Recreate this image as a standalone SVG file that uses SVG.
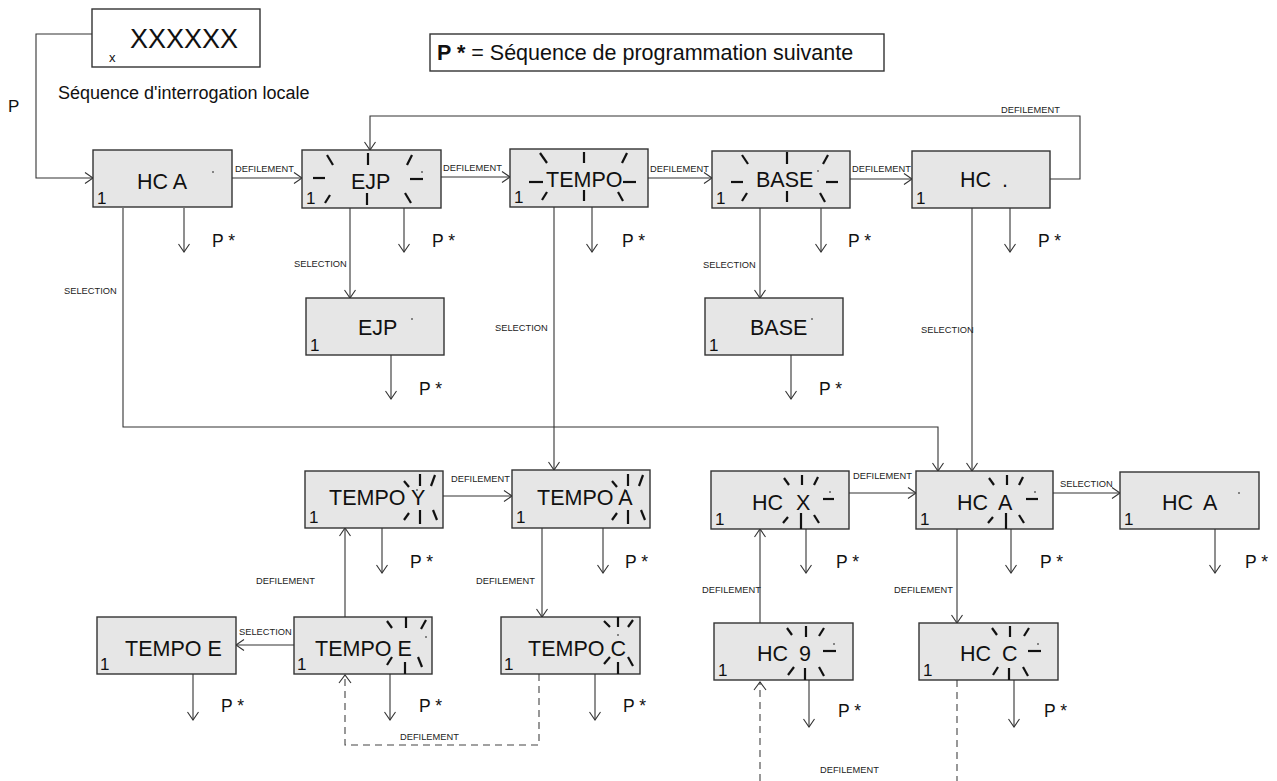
<svg xmlns="http://www.w3.org/2000/svg" width="1277" height="781" viewBox="0 0 1277 781">
<defs>
<marker id="ah" markerUnits="userSpaceOnUse" markerWidth="14" markerHeight="14" refX="9" refY="6" orient="auto">
<path d="M1,0.5 L9,6 L1,11.5" fill="none" stroke="#333" stroke-width="1.1"/>
</marker>
<style>
text{font-family:"Liberation Sans",Arial,sans-serif;fill:#111}
.box{fill:#e6e6e6;stroke:#333;stroke-width:1.4}
.wbox{fill:#fff;stroke:#333;stroke-width:1.4}
.t{font-size:21.5px}
.one{font-size:17px}
.lbl{font-size:9.3px;fill:#222}
.ps{font-size:17.5px}
.ln{fill:none;stroke:#333;stroke-width:1.1}
.arr{fill:none;stroke:#333;stroke-width:1.1;marker-end:url(#ah)}
.dash{fill:none;stroke:#444;stroke-width:1.1;stroke-dasharray:7,5}
.bk{stroke:#111;stroke-width:2.2;stroke-linecap:butt}
.dot{stroke:#222;stroke-width:1}
</style>
</defs>

<g id="header">
<rect class="wbox" x="92" y="9" width="168" height="58"/>
<text x="109" y="62" style="font-size:13px">x</text>
<text x="130" y="48" style="font-size:27px">XXXXXX</text>
<text x="58" y="99" style="font-size:18px">Séquence d'interrogation locale</text>
<text x="8" y="112" style="font-size:17px">P</text>
<rect class="wbox" x="430" y="34" width="454" height="37"/>
<text x="437" y="60" style="font-size:21.5px"><tspan font-weight="bold">P *</tspan> = Séquence de programmation suivante</text>
</g>

<g id="connectors">
<path class="arr" d="M92,34 H36 V178 H93"/>
<path class="arr" d="M232,178 H302"/>
<path class="arr" d="M441,177 H510"/>
<path class="arr" d="M648,178 H712"/>
<path class="arr" d="M850,179 H912"/>
<path class="arr" d="M1050,179 H1080 V116 H370 V150"/>
<path class="arr" d="M123,208 V427 H938 V471"/>
<path class="arr" d="M350,208 V298"/>
<path class="arr" d="M554,207 V470"/>
<path class="arr" d="M760,208 V298"/>
<path class="arr" d="M972,208 V471"/>
<path class="arr" d="M443,496 H512"/>
<path class="arr" d="M849,493 H916"/>
<path class="arr" d="M1053,493 H1120"/>
<path class="arr" d="M345,617 V528"/>
<path class="arr" d="M542,528 V617"/>
<path class="arr" d="M760,623 V529"/>
<path class="arr" d="M957,529 V623"/>
<path class="arr" d="M294,645 H236"/>
<path class="dash" d="M539,674 V745 H345 V676"/>
<path class="ln" d="M339,683 L345,675 L351,683"/>
<path class="dash" d="M760,781 V682"/>
<path class="ln" d="M754,690 L760,682 L766,690"/>
<path class="dash" d="M957,680 V781"/>
<path class="arr" d="M184,208 V252"/>
<path class="arr" d="M404,208 V252"/>
<path class="arr" d="M592,207 V252"/>
<path class="arr" d="M821,208 V252"/>
<path class="arr" d="M1010,208 V252"/>
<path class="arr" d="M391,355 V399"/>
<path class="arr" d="M791,355 V399"/>
<path class="arr" d="M382,528 V573"/>
<path class="arr" d="M603,528 V573"/>
<path class="arr" d="M806,529 V573"/>
<path class="arr" d="M1011,529 V573"/>
<path class="arr" d="M1215,529 V573"/>
<path class="arr" d="M193,674 V720"/>
<path class="arr" d="M390,674 V720"/>
<path class="arr" d="M595,674 V720"/>
<path class="arr" d="M809,680 V727"/>
<path class="arr" d="M1014,680 V727"/>
<text class="lbl" x="235" y="172">DEFILEMENT</text>
<text class="lbl" x="443" y="171">DEFILEMENT</text>
<text class="lbl" x="650" y="172">DEFILEMENT</text>
<text class="lbl" x="852" y="172">DEFILEMENT</text>
<text class="lbl" x="1001" y="113">DEFILEMENT</text>
<text class="lbl" x="64" y="294">SELECTION</text>
<text class="lbl" x="294" y="267">SELECTION</text>
<text class="lbl" x="495" y="331">SELECTION</text>
<text class="lbl" x="703" y="268">SELECTION</text>
<text class="lbl" x="921" y="333">SELECTION</text>
<text class="lbl" x="451" y="482">DEFILEMENT</text>
<text class="lbl" x="853" y="479">DEFILEMENT</text>
<text class="lbl" x="1060" y="487">SELECTION</text>
<text class="lbl" x="256" y="584">DEFILEMENT</text>
<text class="lbl" x="476" y="584">DEFILEMENT</text>
<text class="lbl" x="702" y="593">DEFILEMENT</text>
<text class="lbl" x="894" y="593">DEFILEMENT</text>
<text class="lbl" x="239" y="635">SELECTION</text>
<text class="lbl" x="400" y="740">DEFILEMENT</text>
<text class="lbl" x="820" y="773">DEFILEMENT</text>
<text class="ps" x="212" y="247">P *</text>
<text class="ps" x="432" y="247">P *</text>
<text class="ps" x="622" y="247">P *</text>
<text class="ps" x="848" y="247">P *</text>
<text class="ps" x="1038" y="247">P *</text>
<text class="ps" x="419" y="395">P *</text>
<text class="ps" x="819" y="395">P *</text>
<text class="ps" x="410" y="568">P *</text>
<text class="ps" x="625" y="568">P *</text>
<text class="ps" x="836" y="568">P *</text>
<text class="ps" x="1040" y="568">P *</text>
<text class="ps" x="1245" y="568">P *</text>
<text class="ps" x="221" y="712">P *</text>
<text class="ps" x="419" y="712">P *</text>
<text class="ps" x="623" y="712">P *</text>
<text class="ps" x="838" y="717">P *</text>
<text class="ps" x="1044" y="717">P *</text>
</g>

<g id="n-hca1">
<rect class="box" x="93" y="150" width="139" height="57"/>
<text class="t" x="137" y="189">HC A</text>
<text class="one" x="97" y="204">1</text>
<line class="dot" x1="212" y1="172" x2="214" y2="172"/>
</g>

<g id="n-ejp">
<rect class="box" x="302" y="150" width="139" height="58"/>
<text class="t" x="351" y="189">EJP</text>
<text class="one" x="306" y="204">1</text>
<g class="bk">
<line x1="327" y1="155" x2="333" y2="165"/><line x1="368" y1="153" x2="368" y2="165"/><line x1="412" y1="155" x2="407" y2="165"/>
<line x1="313" y1="178" x2="325" y2="178"/><line x1="410" y1="179" x2="423" y2="179"/>
<line x1="330" y1="195" x2="325" y2="203"/><line x1="367" y1="193" x2="367" y2="205"/><line x1="405" y1="193" x2="411" y2="203"/>
</g>
<line class="dot" x1="421" y1="172" x2="423" y2="172"/>
</g>

<g id="n-tempo">
<rect class="box" x="510" y="149" width="138" height="58"/>
<text class="t" x="546" y="187">TEMPO</text>
<text class="one" x="514" y="203">1</text>
<g class="bk">
<line x1="540" y1="153" x2="547" y2="163"/><line x1="584" y1="152" x2="584" y2="163"/><line x1="627" y1="153" x2="622" y2="163"/>
<line x1="529" y1="182" x2="543" y2="182"/><line x1="623" y1="182" x2="636" y2="182"/>
<line x1="547" y1="192" x2="542" y2="200"/><line x1="584" y1="190" x2="584" y2="201"/><line x1="618" y1="192" x2="623" y2="201"/>
</g>
</g>

<g id="n-base">
<rect class="box" x="712" y="151" width="138" height="57"/>
<text class="t" x="756" y="187">BASE</text>
<text class="one" x="716" y="204">1</text>
<g class="bk">
<line x1="742" y1="155" x2="748" y2="164"/><line x1="787" y1="152" x2="787" y2="164"/><line x1="828" y1="155" x2="823" y2="164"/>
<line x1="731" y1="182" x2="743" y2="182"/><line x1="826" y1="182" x2="838" y2="182"/>
<line x1="747" y1="193" x2="742" y2="201"/><line x1="787" y1="191" x2="787" y2="202"/><line x1="820" y1="193" x2="825" y2="202"/>
</g>
<line class="dot" x1="817" y1="171" x2="819" y2="171"/>
</g>

<g id="n-hcdot">
<rect class="box" x="912" y="151" width="138" height="57"/>
<text class="t" x="960" y="187">HC<tspan dx="11">.</tspan></text>
<text class="one" x="916" y="204">1</text>
</g>

<g id="n-ejp2">
<rect class="box" x="306" y="298" width="138" height="57"/>
<text class="t" x="358" y="335">EJP</text>
<text class="one" x="310" y="351">1</text>
<line class="dot" x1="411" y1="319" x2="413" y2="319"/>
</g>

<g id="n-base2">
<rect class="box" x="705" y="298" width="138" height="57"/>
<text class="t" x="750" y="335">BASE</text>
<text class="one" x="709" y="351">1</text>
<line class="dot" x1="811" y1="319" x2="813" y2="319"/>
</g>

<g id="n-tempoy">
<rect class="box" x="305" y="471" width="138" height="57"/>
<text class="t" x="329" y="505">TEMPO Y</text>
<text class="one" x="309" y="523">1</text>
<g class="bk">
<line x1="404" y1="481" x2="409" y2="487"/><line x1="420" y1="474" x2="420" y2="486"/><line x1="435" y1="475" x2="431" y2="486"/>
<line x1="409" y1="513" x2="404" y2="520"/><line x1="420" y1="510" x2="420" y2="524"/><line x1="433" y1="510" x2="437" y2="520"/>
</g>
<line class="dot" x1="416" y1="490" x2="418" y2="490"/>
</g>

<g id="n-tempoa">
<rect class="box" x="512" y="470" width="138" height="58"/>
<text class="t" x="537" y="505">TEMPO A</text>
<text class="one" x="516" y="523">1</text>
<g class="bk">
<line x1="612" y1="481" x2="617" y2="487"/><line x1="628" y1="474" x2="628" y2="486"/><line x1="643" y1="475" x2="639" y2="486"/>
<line x1="617" y1="513" x2="612" y2="520"/><line x1="628" y1="510" x2="628" y2="524"/><line x1="641" y1="510" x2="645" y2="520"/>
</g>
<line class="dot" x1="624" y1="490" x2="626" y2="490"/>
</g>

<g id="n-hcx">
<rect class="box" x="711" y="471" width="138" height="58"/>
<text class="t" x="752" y="510">HC<tspan x="796">X</tspan></text>
<text class="one" x="715" y="525">1</text>
<g class="bk">
<line x1="784" y1="478" x2="789" y2="485"/><line x1="802" y1="475" x2="802" y2="485"/><line x1="818" y1="477" x2="814" y2="485"/>
<line x1="823" y1="499" x2="834" y2="499"/>
<line x1="788" y1="517" x2="783" y2="523"/><line x1="801" y1="513" x2="801" y2="529"/><line x1="814" y1="515" x2="819" y2="523"/>
</g>
<line class="dot" x1="829" y1="492" x2="831" y2="492"/>
</g>

<g id="n-hca2">
<rect class="box" x="916" y="471" width="137" height="58"/>
<text class="t" x="957" y="510">HC<tspan x="998">A</tspan></text>
<text class="one" x="920" y="525">1</text>
<g class="bk">
<line x1="989" y1="478" x2="994" y2="485"/><line x1="1007" y1="475" x2="1007" y2="485"/><line x1="1023" y1="477" x2="1019" y2="485"/>
<line x1="1026" y1="499" x2="1038" y2="499"/>
<line x1="993" y1="517" x2="988" y2="523"/><line x1="1006" y1="513" x2="1006" y2="529"/><line x1="1019" y1="515" x2="1024" y2="523"/>
</g>
<line class="dot" x1="1034" y1="492" x2="1036" y2="492"/>
</g>

<g id="n-hca3">
<rect class="box" x="1120" y="472" width="139" height="57"/>
<text class="t" x="1162" y="510">HC<tspan x="1203">A</tspan></text>
<text class="one" x="1124" y="525">1</text>
<line class="dot" x1="1238" y1="493" x2="1240" y2="493"/>
</g>

<g id="n-tempoe">
<rect class="box" x="97" y="617" width="139" height="57"/>
<text class="t" x="125" y="656">TEMPO E</text>
<text class="one" x="100" y="670">1</text>
</g>

<g id="n-tempoe2">
<rect class="box" x="294" y="617" width="138" height="57"/>
<text class="t" x="315" y="656">TEMPO E</text>
<text class="one" x="297" y="670">1</text>
<g class="bk">
<line x1="387" y1="621" x2="392" y2="628"/><line x1="406" y1="617" x2="406" y2="628"/><line x1="426" y1="620" x2="421" y2="629"/>
<line x1="392" y1="657" x2="387" y2="665"/><line x1="405" y1="662" x2="405" y2="674"/><line x1="418" y1="657" x2="422" y2="667"/>
</g>
<line class="dot" x1="425" y1="637" x2="427" y2="637"/>
</g>

<g id="n-tempoc">
<rect class="box" x="501" y="617" width="139" height="57"/>
<text class="t" x="528" y="656">TEMPO C</text>
<text class="one" x="504" y="670">1</text>
<g class="bk">
<line x1="604" y1="621" x2="610" y2="627"/><line x1="618" y1="617" x2="618" y2="627"/><line x1="633" y1="620" x2="628" y2="627"/>
<line x1="610" y1="657" x2="604" y2="664"/><line x1="618" y1="662" x2="618" y2="674"/><line x1="628" y1="657" x2="633" y2="666"/>
</g>
<line class="dot" x1="617" y1="635" x2="619" y2="635"/>
</g>

<g id="n-hc9">
<rect class="box" x="714" y="623" width="139" height="57"/>
<text class="t" x="757" y="661">HC<tspan x="799">9</tspan></text>
<text class="one" x="718" y="676">1</text>
<g class="bk">
<line x1="787" y1="628" x2="792" y2="635"/><line x1="806" y1="626" x2="806" y2="637"/><line x1="824" y1="628" x2="819" y2="636"/>
<line x1="823" y1="651" x2="836" y2="651"/>
<line x1="794" y1="667" x2="788" y2="675"/><line x1="805" y1="668" x2="805" y2="680"/><line x1="819" y1="667" x2="824" y2="676"/>
</g>
<line class="dot" x1="833" y1="644" x2="835" y2="644"/>
</g>

<g id="n-hcc">
<rect class="box" x="919" y="623" width="139" height="57"/>
<text class="t" x="960" y="661">HC<tspan x="1002">C</tspan></text>
<text class="one" x="923" y="676">1</text>
<g class="bk">
<line x1="992" y1="628" x2="997" y2="635"/><line x1="1010" y1="626" x2="1010" y2="637"/><line x1="1029" y1="628" x2="1024" y2="636"/>
<line x1="1028" y1="651" x2="1041" y2="651"/>
<line x1="998" y1="667" x2="993" y2="675"/><line x1="1009" y1="668" x2="1009" y2="680"/><line x1="1023" y1="667" x2="1028" y2="676"/>
</g>
<line class="dot" x1="1037" y1="644" x2="1039" y2="644"/>
</g>
</svg>
